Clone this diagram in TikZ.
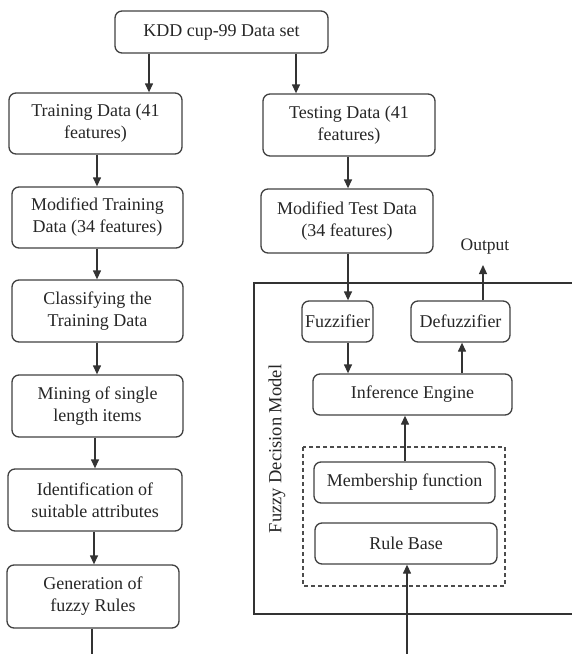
\documentclass[tikz,border=0pt]{standalone}
\usepackage{fontspec}
\setmainfont{Liberation Serif}
\usetikzlibrary{arrows.meta}
\begin{document}
\begin{tikzpicture}[x=1pt,y=-1pt,
  line width=1.3pt,
  every node/.style={text=black!85},
  box/.style={draw=black!75, rounded corners=7pt, align=center, inner sep=0pt,
    font=\fontsize{18}{22}\selectfont},
  arr/.style={draw=black!80, -{Triangle[length=9pt,width=8pt]}},
  ln/.style={draw=black!80}]
\useasboundingbox (0,0) rectangle (572,654);
% left column
\node[box, minimum width=213pt, minimum height=42pt] (kdd) at (221.5,32) {KDD cup-99 Data set};
\node[box, minimum width=173pt, minimum height=61pt] (train) at (95.5,123.5) {Training Data (41\\features)};
\node[box, minimum width=172pt, minimum height=62pt] (test) at (349,125) {Testing Data (41\\features)};
\node[box, minimum width=171pt, minimum height=61pt] (modtrain) at (97.5,217.5) {Modified Training\\Data (34 features)};
\node[box, minimum width=172pt, minimum height=64pt] (modtest) at (347,221) {Modified Test Data\\(34 features)};
\node[box, minimum width=171pt, minimum height=62pt] (classify) at (97.5,311) {Classifying the\\Training Data};
\node[box, minimum width=171pt, minimum height=62pt] (mining) at (97.5,406) {Mining of single\\length items};
\node[box, minimum width=174pt, minimum height=62pt] (ident) at (95,500) {Identification of\\suitable attributes};
\node[box, minimum width=172pt, minimum height=63pt] (gen) at (93,596.5) {Generation of\\fuzzy Rules};
% fuzzy model
\draw[ln] (572,283) -- (254,283) -- (254,614) -- (572,614);
\node[rotate=90, font=\fontsize{18.5}{22}\selectfont] (fdm) at (277,449) {Fuzzy Decision Model};
\node[box, minimum width=71pt, minimum height=41pt] (fuzz) at (337.5,321.5) {Fuzzifier};
\node[box, minimum width=99pt, minimum height=41pt] (defuzz) at (460.5,321.5) {Defuzzifier};
\node[box, minimum width=199pt, minimum height=41pt] (infer) at (412.5,394.5) {Inference Engine};
\draw[draw=black!70, line width=1.2pt, dash pattern=on 4pt off 3pt] (303,447) rectangle (505,586);
\node[box, minimum width=181pt, minimum height=41pt] (member) at (404.5,482.5) {Membership function};
\node[box, minimum width=182pt, minimum height=41pt] (rule) at (406,543.5) {Rule Base};
\node[font=\fontsize{17.5}{20}\selectfont] (out) at (485,247) {Output};
\coordinate (outtip) at (483,265);
\coordinate (genend) at (92,654);
\coordinate (rbin) at (407,654);
% connectors
\draw[arr] (kdd.south -| 149,0) -- (train.north -| 149,0);
\draw[arr] (kdd.south -| 296,0) -- (test.north -| 296,0);
\draw[arr] (train.south -| 97,0) -- (modtrain.north -| 97,0);
\draw[arr] (test.south -| 348,0) -- (modtest.north -| 348,0);
\draw[arr] (modtrain.south -| 97,0) -- (classify.north -| 97,0);
\draw[arr] (classify.south -| 97,0) -- (mining.north -| 97,0);
\draw[arr] (mining.south -| 95,0) -- (ident.north -| 95,0);
\draw[arr] (ident.south -| 94,0) -- (gen.north -| 94,0);
\draw[ln] (gen.south -| genend) -- (genend);
\draw[arr] (modtest.south -| 348,0) -- (fuzz.north -| 348,0);
\draw[arr] (fuzz.south -| 348,0) -- (infer.north -| 348,0);
\draw[arr] (infer.north -| 462,0) -- (defuzz.south -| 462,0);
\draw[arr] (defuzz.north -| outtip) -- (outtip);
\draw[arr] (member.north -| 405,0) -- (infer.south -| 405,0);
\draw[arr] (rbin) -- (rule.south -| rbin);
\end{tikzpicture}
\end{document}
